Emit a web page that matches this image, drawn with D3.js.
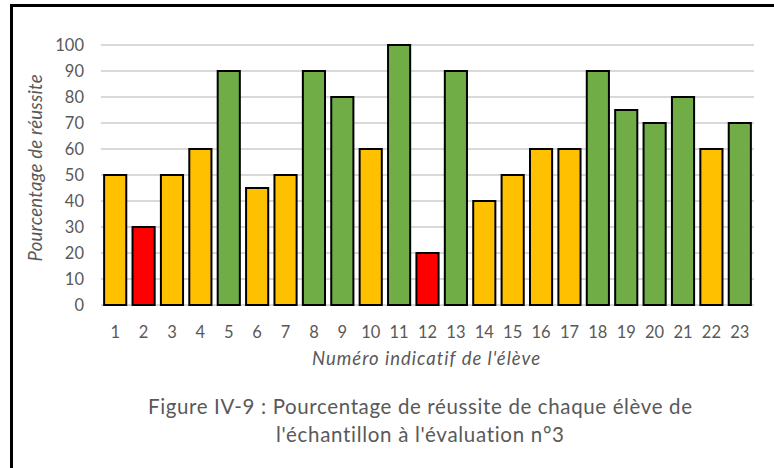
<!DOCTYPE html>
<html>
<head>
<meta charset="utf-8">
<script src="https://cdn.jsdelivr.net/npm/d3@7"></script>
<style>
  body { margin: 0; background: #fff; }
  text { font-family: Lato, "Open Sans", sans-serif; fill: #595959; font-variant-ligatures: none; }
</style>
</head>
<body>
<svg id="chart" width="774" height="468"></svg>
<script>
'use strict';
const STUDENTS = d3.range(1, 24).map(String);
const SCORES = [50, 30, 50, 60, 90, 45, 50, 90, 80, 60, 100, 20, 90, 40, 50, 60, 60, 90, 75, 70, 80, 60, 70];
const Y_TICKS = [0, 10, 20, 30, 40, 50, 60, 70, 80, 90, 100];
const Y_TITLE = 'Pourcentage de réussite';
const X_TITLE = "Numéro indicatif de l'élève";
const CAPTION = ['Figure IV-9 : Pourcentage de réussite de chaque élève de',
                 "l'échantillon à l'évaluation n°3"];
const CAPTION_WIDTHS = [544, 288];

const WIDTH = 774, HEIGHT = 468;
const PLOT = { left: 101, right: 754, top: 45, bottom: 305 };

let svg = d3.select('#chart');

// frame (only left and top edges show in the picture)
svg.append('path')
  .attr('d', 'M11.5,468 L11.5,5.5 L774,5.5')
  .attr('fill', 'none')
  .attr('stroke', '#000')
  .attr('stroke-width', 3);

let x = d3.scaleBand().domain(STUDENTS).range([PLOT.left, PLOT.right]).paddingInner(0.22).paddingOuter(0.11);
let y = d3.scaleLinear().domain([0, 100]).range([PLOT.bottom, PLOT.top]);

function barColor(v) {
  if (v < 40) return '#FF0000';
  if (v < 70) return '#FFC000';
  return '#70AD47';
}

// gridlines
svg.append('g')
  .selectAll('line')
  .data(Y_TICKS)
  .enter()
  .append('line')
  .attr('x1', PLOT.left)
  .attr('x2', PLOT.right)
  .attr('y1', d => y(d))
  .attr('y2', d => y(d))
  .attr('stroke', '#d9d9d9')
  .attr('stroke-width', 2);

// y tick labels
svg.append('g')
  .selectAll('text')
  .data(Y_TICKS)
  .enter()
  .append('text')
  .attr('x', 84)
  .attr('y', d => y(d))
  .attr('dy', '0.35em')
  .attr('text-anchor', 'end')
  .attr('font-size', 16.5)
  .text(d => d);

// bars
svg.append('g')
  .selectAll('rect')
  .data(SCORES)
  .enter()
  .append('rect')
  .attr('x', (d, i) => x(STUDENTS[i]))
  .attr('y', d => y(d))
  .attr('width', x.bandwidth())
  .attr('height', d => y(0) - y(d))
  .attr('fill', d => barColor(d))
  .attr('stroke', '#000')
  .attr('stroke-width', 2);

// x tick labels
svg.append('g')
  .selectAll('text')
  .data(STUDENTS)
  .enter()
  .append('text')
  .attr('x', d => x(d) + x.bandwidth() / 2)
  .attr('y', 332)
  .attr('dy', '0.35em')
  .attr('text-anchor', 'middle')
  .attr('font-size', 16.5)
  .text(d => d);

// axis titles
svg.append('text')
  .attr('transform', 'translate(36,' + 168 + ') rotate(-90)')
  .attr('text-anchor', 'middle')
  .attr('dy', '0.35em')
  .attr('font-size', 18.5)
  .attr('font-style', 'italic')
  .attr('textLength', 187)
  .attr('lengthAdjust', 'spacing')
  .text(Y_TITLE);

svg.append('text')
  .attr('x', 426)
  .attr('y', 359)
  .attr('dy', '0.35em')
  .attr('text-anchor', 'middle')
  .attr('font-size', 18.5)
  .attr('font-style', 'italic')
  .attr('textLength', 228)
  .attr('lengthAdjust', 'spacing')
  .text(X_TITLE);

// caption
svg.append('g')
  .selectAll('text')
  .data(CAPTION)
  .enter()
  .append('text')
  .attr('x', 420)
  .attr('y', (d, i) => 407 + i * 28)
  .attr('dy', '0.35em')
  .attr('text-anchor', 'middle')
  .attr('font-size', 20.5)
  .attr('textLength', (d, i) => CAPTION_WIDTHS[i])
  .attr('lengthAdjust', 'spacing')
  .text(d => d);
</script>
</body>
</html>
